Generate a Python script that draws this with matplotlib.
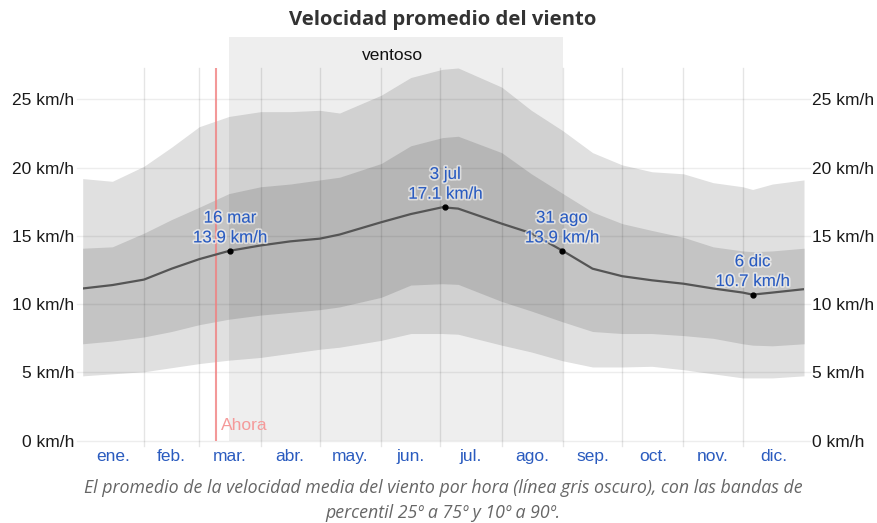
import matplotlib
matplotlib.use("Agg")
import matplotlib.pyplot as plt
import matplotlib.patheffects as pe

# ---- data ----
days = [0, 15, 31, 45, 59, 74, 90, 105, 120, 130, 151, 166, 182, 190, 212, 227,
        243, 258, 273, 288, 304, 319, 334, 339, 349, 365]
mean = [11.15, 11.4, 11.8, 12.6, 13.3, 13.9, 14.3, 14.6, 14.8, 15.1, 16.0, 16.6, 17.1,
        17.0, 15.9, 15.2, 13.9, 12.6, 12.05, 11.75, 11.5, 11.15, 10.85, 10.7, 10.85, 11.1]
p90 = [19.2, 19.0, 20.1, 21.5, 23.0, 23.75, 24.1, 24.1, 24.2, 24.0, 25.3, 26.6, 27.2,
       27.3, 25.9, 24.2, 22.7, 21.1, 20.2, 19.7, 19.55, 18.9, 18.6, 18.4, 18.8, 19.1]
p75 = [14.1, 14.2, 15.2, 16.2, 17.1, 18.1, 18.6, 18.8, 19.1, 19.3, 20.3, 21.6, 22.2,
       22.3, 21.1, 19.55, 18.1, 16.75, 15.9, 15.4, 14.9, 14.2, 13.9, 13.85, 13.9, 14.1]
p25 = [7.1, 7.3, 7.6, 8.0, 8.5, 8.9, 9.2, 9.4, 9.6, 9.8, 10.5, 11.4, 11.5, 11.45, 10.2,
       9.5, 8.7, 8.0, 7.85, 7.85, 7.7, 7.5, 7.1, 7.0, 6.95, 7.1]
p10 = [4.75, 4.9, 5.05, 5.35, 5.65, 5.9, 6.1, 6.4, 6.7, 6.85, 7.35, 7.85, 7.85, 7.8, 7.0,
       6.5, 5.85, 5.4, 5.4, 5.45, 5.2, 4.9, 4.6, 4.6, 4.6, 4.75]

month_starts = [0, 31, 59, 90, 120, 151, 181, 212, 243, 273, 304, 334, 365]
month_labels = ["ene.", "feb.", "mar.", "abr.", "may.", "jun.", "jul.", "ago.",
                "sep.", "oct.", "nov.", "dic."]
yticks = [0, 5, 10, 15, 20, 25]
ytick_labels = ["0 km/h", "5 km/h", "10 km/h", "15 km/h", "20 km/h", "25 km/h"]

windy_start, windy_end = 74, 243
windy_label = "ventoso"
now_day = 67.5
now_label = "Ahora"

ann_days = [74.5, 183.5, 242.5, 339]
ann_vals = [13.9, 17.1, 13.9, 10.7]
ann_dates = ["16 mar", "3 jul", "31 ago", "6 dic"]

title = "Velocidad promedio del viento"
caption = ("El promedio de la velocidad media del viento por hora (línea gris oscuro), con las bandas de\n"
           "percentil 25º a 75º y 10º a 90º.")

# ---- figure ----
W, H = 877, 523
fig = plt.figure(figsize=(W / 100, H / 100), dpi=100)
ax_l, ax_r, ax_t, ax_b = 82.7, 804.0, 68.0, 440.7
ax = fig.add_axes([ax_l / W, 1 - ax_b / H, (ax_r - ax_l) / W, (ax_b - ax_t) / H])
ax.set_xlim(0, 365)
ax.set_ylim(0, 27.3)
for s in ax.spines.values():
    s.set_visible(False)

label_font = ["Liberation Sans", "DejaVu Sans"]
fs = 12.5

# bands
ax.fill_between(days, p10, p90, color="#e0e0e0", lw=0, zorder=1)
ax.fill_between(days, p25, p75, color="#c4c4c4", lw=0, zorder=1.1)

# windy season shading
span_top = (ax_b - 37) / (ax_b - ax_t)
ax.axvspan(windy_start, windy_end, ymin=0, ymax=span_top, color="black", alpha=0.065,
           lw=0, zorder=1.5, clip_on=False)
ax.text((windy_start + windy_end) / 2 - 1.5, 25.0 + (99 - 55.5) / 13.65, windy_label,
        ha="center", va="center", fontsize=fs, color="#111", family=label_font, zorder=5)

# grid lines
for d in month_starts[1:-1]:
    ax.axvline(d, ymin=-5 / (ax_b - ax_t), ymax=1, color="black", alpha=0.1, lw=1,
               zorder=2, clip_on=False)
for y in yticks:
    ax.axhline(y, xmin=-0.008, xmax=1.008, color="black", alpha=0.07, lw=1, zorder=2,
               clip_on=False)

# now line
ax.axvline(now_day, ymin=0, ymax=1, color="#f08080", alpha=0.8, lw=1.5, zorder=2.5)
ax.text(now_day + 2.5, 1.1, now_label, color="#f59a9a", fontsize=fs, ha="left",
        va="center", family=label_font, zorder=5)

# mean line
ax.plot(days, mean, color="#555555", lw=1.6, zorder=3, solid_joinstyle="round")

# annotations
for d, v, lab in zip(ann_days, ann_vals, ann_dates):
    ax.plot([d], [v], "o", color="black", ms=3.5, zorder=4)
    t = ax.annotate(f"{lab}\n{v:.1f} km/h", (d, v), xytext=(0, 4), textcoords="offset points",
                    ha="center", va="bottom", fontsize=12.2, color="#2a5bbf",
                    linespacing=1.4, family=label_font, zorder=6)
    t.set_path_effects([pe.withStroke(linewidth=2.5, foreground=(1, 1, 1, 0.55))])

# ticks
ax.set_yticks(yticks)
ax.set_yticklabels(ytick_labels)
ax.tick_params(axis="y", length=0, labelsize=fs, labelcolor="#1a1a1a", left=False,
               right=False, labelleft=True, labelright=True, pad=6)
mids = [(month_starts[i] + month_starts[i + 1]) / 2 for i in range(12)]
ax.set_xticks(mids)
ax.set_xticklabels(month_labels)
ax.tick_params(axis="x", length=0, labelsize=fs, labelcolor="#2a5bbf", pad=6)
for lbl in ax.get_xticklabels() + ax.get_yticklabels():
    lbl.set_family(label_font)

fig.text(443 / W, 1 - 20 / H, title, ha="center", va="center", fontsize=14.6,
         fontweight="bold", color="#333333", family=["Open Sans", "DejaVu Sans"])
fig.text(443 / W, 1 - 500.5 / H, caption, ha="center", va="center", fontsize=12.8,
         style="italic", color="#666666", linespacing=1.5,
         family=["Open Sans", "DejaVu Sans"])

fig.savefig("out.png", dpi=100)
